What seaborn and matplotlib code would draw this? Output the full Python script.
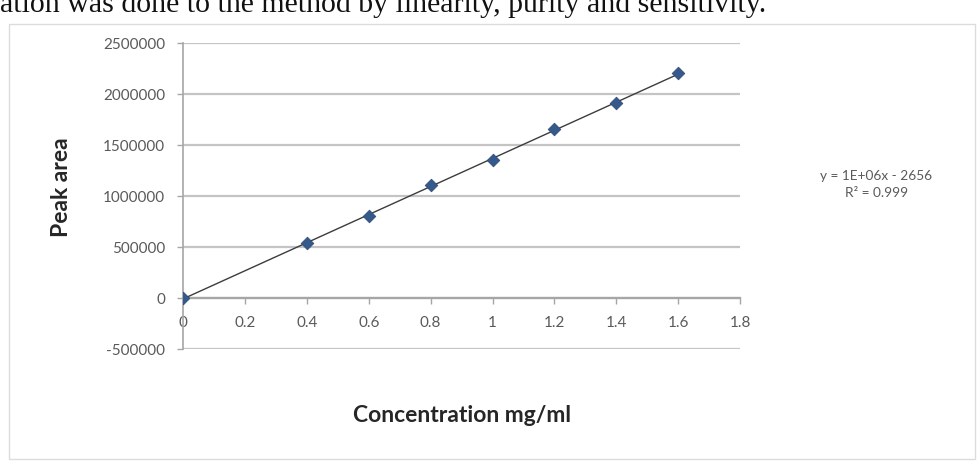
import numpy as np
import pandas as pd
import seaborn as sns
import matplotlib.pyplot as plt
from matplotlib.patches import Rectangle

# calibration data
concentration = [0.0, 0.4, 0.6, 0.8, 1.0, 1.2, 1.4, 1.6]
peak_area = [0, 540000, 808000, 1105000, 1355000, 1655000, 1910000, 2205000]

x_ticks = [0, 0.2, 0.4, 0.6, 0.8, 1, 1.2, 1.4, 1.6, 1.8]
x_tick_labels = ['0', '0.2', '0.4', '0.6', '0.8', '1', '1.2', '1.4', '1.6', '1.8']
y_ticks = [-500000, 0, 500000, 1000000, 1500000, 2000000, 2500000]

equation_text = 'y = 1E+06x - 2656\nR² = 0.999'
header_text = 'ation was done to the method by linearity, purity and sensitivity.'

df = pd.DataFrame({'Concentration': concentration, 'Peak area': peak_area})

sns.set_theme(style="white")
plt.rcParams['font.family'] = ['Lato', 'DejaVu Sans']

fig = plt.figure(figsize=(9.79, 4.63), dpi=100)
ax = fig.add_axes([0.187, 0.246, 0.569, 0.661])

# chart frame
fig.patches.append(Rectangle((0.009, 0.008), 0.987, 0.94, transform=fig.transFigure,
                             facecolor='none', edgecolor='#dcdcdc', lw=1.0, zorder=0))

# trend line + markers
sns.regplot(data=df, x='Concentration', y='Peak area', ax=ax, scatter=False, ci=None,
            truncate=True, line_kws={'color': '#3c3c3c', 'lw': 1.0, 'zorder': 3})
sns.scatterplot(data=df, x='Concentration', y='Peak area', ax=ax, marker='D', s=42,
                color='#35598a', edgecolor='#2b4a75', linewidth=0.5, zorder=4)

ax.set_xlim(0, 1.8)
ax.set_ylim(-500000, 2500000)
ax.set_xticks(x_ticks)
ax.set_xticklabels(x_tick_labels)
ax.set_yticks(y_ticks)
ax.set_yticklabels([str(v) for v in y_ticks])

ax.grid(axis='y', color='#c4c4c4', lw=1.6)
ax.grid(axis='x', visible=False)
for side in ['top', 'right']:
    ax.spines[side].set_visible(False)
ax.spines['bottom'].set_position(('data', 0))
ax.spines['bottom'].set_color('#a6a6a6')
ax.spines['bottom'].set_linewidth(1.6)
ax.spines['left'].set_color('#a6a6a6')
ax.spines['left'].set_linewidth(1.2)

ax.tick_params(axis='both', which='major', labelsize=11, labelcolor='#5a5a5a',
               color='#a6a6a6', direction='out', length=4, width=1)
ax.tick_params(axis='x', pad=9)
ax.tick_params(axis='y', pad=9)
ax.xaxis.set_ticks_position('bottom')
ax.yaxis.set_ticks_position('left')

ax.set_xlabel('')
ax.set_ylabel('')
fig.text(0.472, 0.103, 'Concentration mg/ml', ha='center', va='center',
         fontsize=16.5, fontweight='bold', color='#262626')
fig.text(0.063, 0.596, 'Peak area', ha='center', va='center', rotation=90,
         fontsize=16.5, fontweight='bold', color='#262626')

fig.text(0.895, 0.602, equation_text, ha='center', va='center', fontsize=9.8,
         color='#5a5a5a', linespacing=1.45)

fig.text(0.0, 1 - 12 / 463, header_text, ha='left', va='baseline', fontsize=21.5,
         family=['Liberation Serif', 'DejaVu Serif'], color='#111111')

fig.savefig('out.png', dpi=100, facecolor='white')
